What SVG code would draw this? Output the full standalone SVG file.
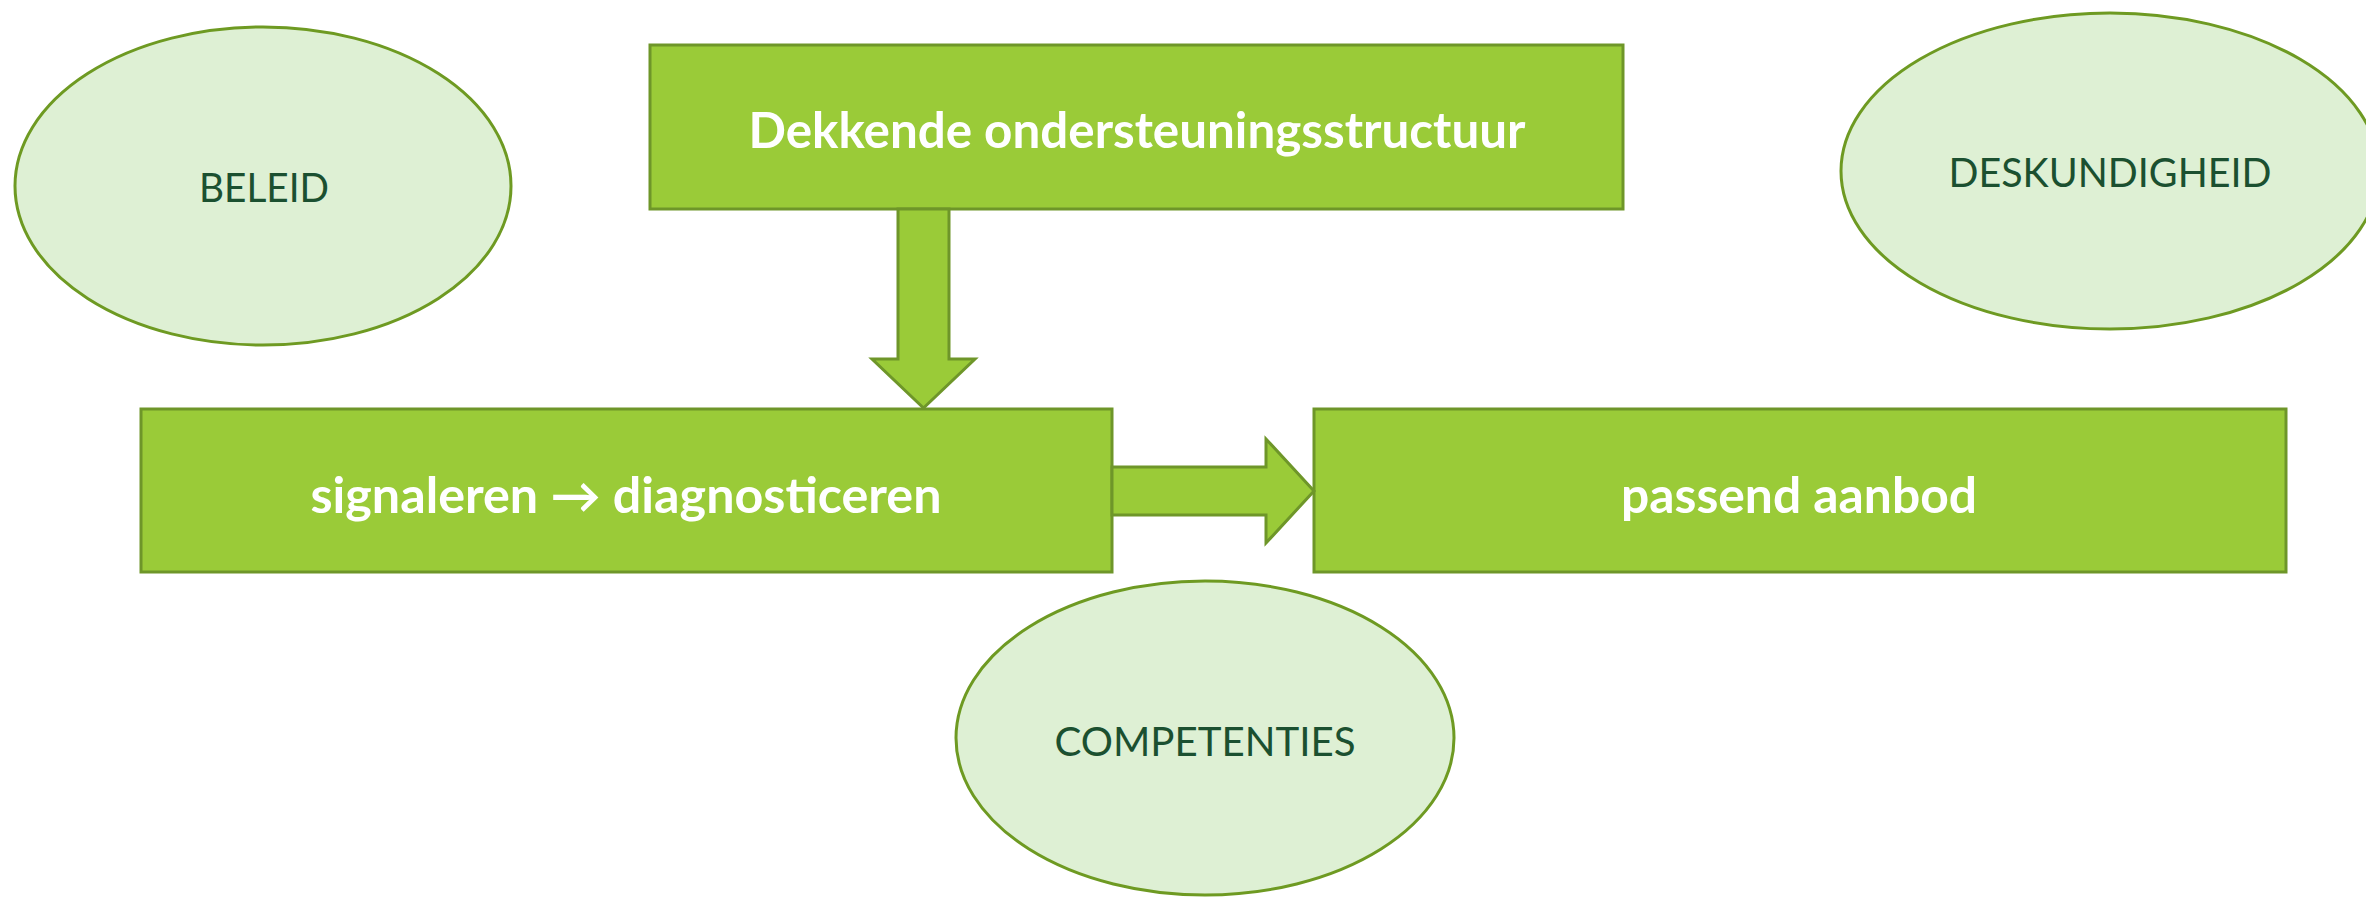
<svg xmlns="http://www.w3.org/2000/svg" width="2366" height="897" viewBox="0 0 2366 897">
<style>
.box{fill:#9ACB38;stroke:#6E9629;stroke-width:3}
.arr{fill:#9ACB38;stroke:#6E9629;stroke-width:3;stroke-linejoin:miter}
.ell{fill:#DEF0D4;stroke:#6E9A22;stroke-width:3}
.bt{font-family:Lato,"Open Sans","Liberation Sans",sans-serif;font-weight:bold;font-size:49px;fill:#FFFFFF;text-anchor:middle}
.et{font-family:Lato,"Open Sans","Liberation Sans",sans-serif;font-size:40px;fill:#1B5030;text-anchor:middle}
</style>
<rect width="2366" height="897" fill="#FFFFFF"/>
<g id="beleid">
<ellipse class="ell" cx="263" cy="186" rx="248" ry="159"/>
<text class="et" x="264" y="202" textLength="130" lengthAdjust="spacingAndGlyphs">BELEID</text>
</g>
<g id="deskundigheid">
<ellipse class="ell" cx="2110" cy="171" rx="269" ry="158"/>
<text class="et" x="2110" y="187" textLength="323" lengthAdjust="spacingAndGlyphs">DESKUNDIGHEID</text>
</g>
<g id="competenties">
<ellipse class="ell" cx="1205" cy="738" rx="249" ry="157"/>
<text class="et" x="1205" y="756" textLength="301" lengthAdjust="spacingAndGlyphs">COMPETENTIES</text>
</g>
<g id="ondersteuning">
<rect class="box" x="650" y="45" width="973" height="164"/>
<text class="bt" x="1137" y="148" textLength="777" lengthAdjust="spacingAndGlyphs">Dekkende ondersteuningsstructuur</text>
</g>
<g id="signaleren">
<rect class="box" x="141" y="409" width="971" height="163"/>
<text class="bt" x="626" y="513" textLength="631" lengthAdjust="spacingAndGlyphs">signaleren → diagnosticeren</text>
</g>
<g id="aanbod">
<rect class="box" x="1314" y="409" width="972" height="163"/>
<text class="bt" x="1799" y="513" textLength="356" lengthAdjust="spacingAndGlyphs">passend aanbod</text>
</g>
<g id="connectors">
<polygon class="arr" points="898,209 949,209 949,359 975,359 923.5,408 872,359 898,359"/>
<polygon class="arr" points="1112,467 1266,467 1266,439 1314,491 1266,543 1266,515 1112,515"/>
</g>
</svg>
